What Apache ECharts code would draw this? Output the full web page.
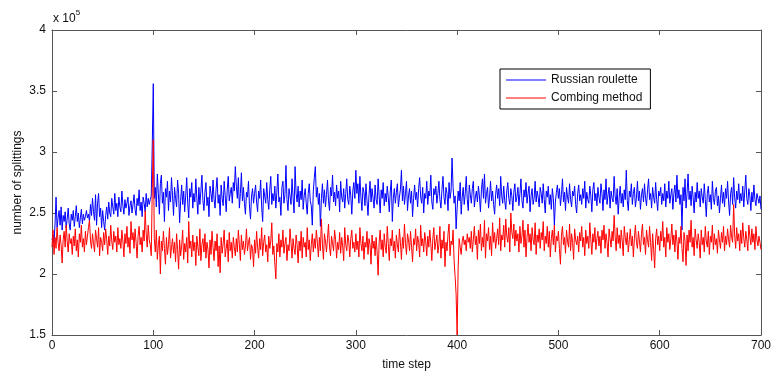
<!DOCTYPE html>
<html>
<head>
<meta charset="utf-8">
<script src="https://cdn.jsdelivr.net/npm/echarts@6/dist/echarts.min.js"></script>
<style>
html,body{margin:0;padding:0;background:#fff;}
#c{width:774px;height:376px;}
</style>
</head>
<body>
<div id="c"></div>
<script>
// values in units of 10^3 (e.g. 263 = 2.63 x 10^5), time steps 0..700
var xTicks = [0, 100, 200, 300, 400, 500, 600, 700];
var yTicks = [1.5, 2, 2.5, 3, 3.5, 4];
var seriesNames = ["Russian roulette", "Combing method"];

var russianRoulette = [].concat(
[228,232,226,241,263,238,246,252,240,255,236,248,243,251,238,245,254,241,236,249],
[244,252,239,247,256,243,250,238,246,253,241,249,244,247,252,246,249,243,257,248],
[262,251,244,265,240,258,266,247,254,238,252,243,236,248,255,245,259,250,247,262],
[255,249,266,252,258,247,263,255,251,268,256,249,261,254,258,263,248,256,260,250],
[257,265,253,248,262,256,269,252,259,247,263,258,251,266,255,262,257,261,264,306],
[356],
[262,271,255,282,266,249,274,281,258,267,243,270,263,276,252,268,259,279,264],
[248,271,262,255,277,266,242,260,273,257,268,251,264,279,258,246,270,263,275,254],
[266,259,278,262,249,271,257,268,281,260,252,267,275,256,263,247,272,266,259,277],
[261,254,270,279,258,265,248,273,262,256,276,264,251,269,280,260,266,271,258,275],
[268,288,272,262,279,254,266,283,260,271,258,249,267,263,276,255,245,264,270,258],
[266,273,259,251,268,262,277,255,243,270,264,258,275,261,253,269,280,257,266,260],
[272,254,267,282,259,263,248,271,276,258,265,289,261,252,270,264,257,278,263,250],
[288,266,259,272,255,268,261,277,253,264,270,258,249,266,274,260,256,240,268,279],
[288,263,271,257,266,239,262,274,258,269,255,265,277,260,252,271,264,281,259,267],
[256,273,262,268,251,276,263,259,270,254,266,278,261,257,272,264,249,268,275,262],
[285,266,274,258,280,263,252,271,267,256,274,260,248,265,276,259,270,262,254,273],
[261,257,278,264,250,269,262,275,256,266,259,272,263,251,268,277,243,262,270,258],
[267,274,255,263,269,285,260,272,257,266,276,252,264,270,258,268,247,262,273,261],
[267,255,270,279,263,258,271,250,266,262,276,257,268,264,281,259,253,270,265,272],
[258,266,276,261,254,269,280,263,257,271,266,252,275,262,268,295,271,258,264,237],
[254,268,260,275,249,263,271,257,266,280,261,252,273,265,258,270,276,255,263,268],
[259,272,264,251,269,278,262,282,258,266,271,254,263,276,260,268,257,249,265,273],
[262,270,256,280,264,258,272,260,253,268,275,262,257,270,264,252,267,274,259,263],
[271,256,266,278,260,254,269,263,275,258,266,272,251,264,270,257,262,276,259,268],
[263,255,271,266,258,274,261,250,268,263,272,257,265,253,270,262,240,259,267,273],
[262,270,256,265,278,259,267,252,271,263,258,274,261,255,268,264,272,257,250,266],
[273,260,265,257,270,262,276,254,267,261,258,272,264,251,269,275,260,266,256,271],
[263,258,274,266,252,269,261,278,257,265,271,254,268,262,259,280,264,257,270,249],
[263,272,258,266,255,269,261,285,260,252,268,263,274,257,266,271,255,262,276,260],
[268,253,265,270,259,274,262,256,269,278,261,266,254,271,263,258,275,261,252,268],
[264,271,257,266,260,274,255,268,262,276,258,265,270,253,266,273,259,281,262,269],
[257,265,236,271,260,278,254,266,282,261,268,256,272,263,250,267,259,275,262,268],
[255,270,263,258,274,261,247,266,272,259,265,253,276,262,257,268,271,256,264,250],
[262,273,258,267,255,270,262,276,259,248,266,271,257,279,263,254,268,261,274,258],
[266,260,272,255,268,281,262,257,270,264,252,267,259,273,261,256,266,262,258,264,253]
);

var combingMethod = [].concat(
[222,236,216,230,221,238,226,219,232,224,209,228,235,222,240,227,218,233,225,229],
[216,231,223,237,219,228,214,233,226,240,222,229,218,235,224,231,238,244,227,221],
[233,225,218,236,229,222,238,215,230,226,219,234,224,237,228,216,231,223,240,227],
[220,235,226,231,218,238,224,229,221,236,227,214,233,225,239,222,230,217,243,228],
[234,221,237,226,213,231,239,224,230,218,236,227,252,233,222,240,228,224,215,270],
[310],
[229,218,236,212,224,231,200,227,219,235,221,208,230,216,224,238,213,222,229],
[217,226,210,233,220,204,228,215,223,236,212,225,218,230,209,243,221,227,214,232],
[219,226,207,231,222,215,237,211,224,229,218,233,213,226,220,205,228,216,235,222],
[211,227,219,233,206,223,201,230,217,225,236,214,221,228,210,234,219,226,213,230],
[222,215,229,218,236,224,211,232,220,227,216,223,237,219,226,230,212,224,221,206],
[228,217,235,222,213,229,220,238,215,226,232,218,224,210,231,221,227,242,216,223],
[209,196,225,218,233,214,228,222,236,217,225,230,211,224,219,237,226,213,229,221],
[216,232,224,209,227,219,235,213,230,222,226,214,238,220,228,211,224,233,218,229],
[221,236,226,214,230,219,245,224,212,233,227,218,229,241,222,215,231,225,219,236],
[228,213,226,220,234,217,230,223,211,238,224,219,232,227,214,229,236,221,226,218],
[233,220,227,214,238,225,219,231,212,226,222,235,216,229,224,208,232,221,227,215],
[230,218,199,226,236,220,228,214,233,222,217,239,225,211,229,223,236,219,227,213],
[232,224,218,237,226,212,230,221,241,225,216,233,228,219,235,222,210,229,224,237],
[219,231,226,214,240,223,229,218,234,227,215,231,222,236,225,211,229,238,220,226],
[232,217,224,239,213,228,221,235,206,226,219,233,241,215,227,224,236,211,198,183],
[150],
[205,229,222,216,227,231,224,228,219,233,226,230,221,235,218,228,239,224,231],
[212,236,225,241,219,230,222,244,213,233,227,238,220,231,215,242,226,234,221,229],
[237,224,246,219,232,228,240,222,245,231,226,238,218,250,234,229,241,223,236,227],
[233,218,239,225,231,244,222,236,214,230,241,226,233,219,238,228,224,242,216,232],
[226,237,221,234,228,243,219,231,225,239,222,235,214,229,236,224,240,218,231,227],
[235,221,208,232,239,224,230,217,236,227,222,241,219,233,226,212,237,228,224,231],
[218,234,227,239,222,230,215,236,225,231,221,242,228,216,233,226,238,220,229,235],
[223,231,217,236,228,240,221,233,226,214,237,229,222,235,227,248,231,219,238,225],
[232,221,236,227,215,239,230,224,234,218,228,237,223,231,214,229,240,226,221,235],
[227,218,233,241,224,230,216,236,228,222,239,226,211,233,220,205,229,237,224,231],
[219,235,227,243,222,230,214,238,226,233,220,229,241,224,232,218,236,227,212,230],
[225,239,221,210,234,227,207,232,219,236,226,244,222,230,215,237,228,221,233,226],
[213,236,224,230,218,239,227,222,235,216,231,226,240,220,233,224,229,217,236,228],
[221,234,226,239,219,231,224,237,228,222,240,230,226,257,232,221,238,227,233,219],
[236,225,242,229,222,235,228,219,240,231,224,237,226,233,220,239,228,223,231,226,220]
);

function toPoints(arr){ return arr.map(function(v,i){ return [i, v/100]; }); }

var FONT = '"Liberation Sans", Arial, sans-serif';
var axisCol = '#555';
var chart = echarts.init(document.getElementById('c'), null, {renderer:'canvas'});
chart.setOption({
  animation: false,
  backgroundColor: '#fff',
  grid: {left: 52, right: 12, top: 30, bottom: 40, show: false},
  legend: {
    data: seriesNames,
    left: 500, top: 69,
    orient: 'vertical',
    icon: 'rect',
    itemWidth: 40, itemHeight: 1,
    itemGap: 6,
    padding: [5, 8, 5, 6],
    borderColor: '#000', borderWidth: 1,
    backgroundColor: '#fff',
    textStyle: {fontFamily: FONT, fontSize: 12, color: '#111'}
  },
  xAxis: [{
    type: 'value', min: xTicks[0], max: xTicks[xTicks.length-1], interval: 100,
    position: 'bottom',
    name: 'time step', nameLocation: 'middle', nameGap: 24,
    nameTextStyle: {fontFamily: FONT, fontSize: 12, color: '#111'},
    axisLine: {show: true, onZero: false, lineStyle: {color: axisCol, width: 1}},
    axisTick: {show: true, inside: true, length: 5, lineStyle: {color: axisCol}},
    axisLabel: {fontFamily: FONT, fontSize: 12, color: '#111', margin: 5},
    splitLine: {show: false}
  }, {
    type: 'value', min: xTicks[0], max: xTicks[xTicks.length-1], interval: 100,
    position: 'top',
    axisLine: {show: true, onZero: false, lineStyle: {color: axisCol, width: 1}},
    axisTick: {show: true, inside: true, length: 5, lineStyle: {color: axisCol}},
    axisLabel: {show: false},
    splitLine: {show: false}
  }],
  yAxis: [{
    type: 'value', min: 1.5, max: 4, interval: 0.5,
    position: 'left',
    name: 'number of splittings', nameLocation: 'middle', nameGap: 28, nameRotate: 90,
    nameMoveOverlap: false,
    nameTextStyle: {fontFamily: FONT, fontSize: 12, color: '#111'},
    axisLine: {show: true, onZero: false, lineStyle: {color: axisCol, width: 1}},
    axisTick: {show: true, inside: true, length: 5, lineStyle: {color: axisCol}},
    axisLabel: {fontFamily: FONT, fontSize: 12, color: '#111', margin: 6,
      formatter: function(v){ return yTicks.indexOf(v) >= 0 ? String(v) : ''; }},
    splitLine: {show: false}
  }, {
    type: 'value', min: 1.5, max: 4, interval: 0.5,
    position: 'right',
    axisLine: {show: true, onZero: false, lineStyle: {color: axisCol, width: 1}},
    axisTick: {show: true, inside: true, length: 5, lineStyle: {color: axisCol}},
    axisLabel: {show: false},
    splitLine: {show: false}
  }],
  graphic: [{
    type: 'text', left: 53, top: 9,
    style: {
      text: '{a|x 10}{b|5}',
      rich: {
        a: {fontFamily: FONT, fontSize: 12, fill: '#111', verticalAlign: 'bottom'},
        b: {fontFamily: FONT, fontSize: 8, fill: '#111', verticalAlign: 'top', padding: [0,0,8,0]}
      }
    }
  }],
  series: [{
    name: seriesNames[0], type: 'line', xAxisIndex: 0, yAxisIndex: 0,
    data: toPoints(russianRoulette), showSymbol: false, symbol: 'none',
    lineStyle: {color: '#0000ff', width: 1}, itemStyle: {color: '#0000ff'},
    z: 2
  }, {
    name: seriesNames[1], type: 'line', xAxisIndex: 0, yAxisIndex: 0,
    data: toPoints(combingMethod), showSymbol: false, symbol: 'none',
    lineStyle: {color: '#ff0000', width: 1}, itemStyle: {color: '#ff0000'},
    z: 3
  }]
});
</script>
</body>
</html>
